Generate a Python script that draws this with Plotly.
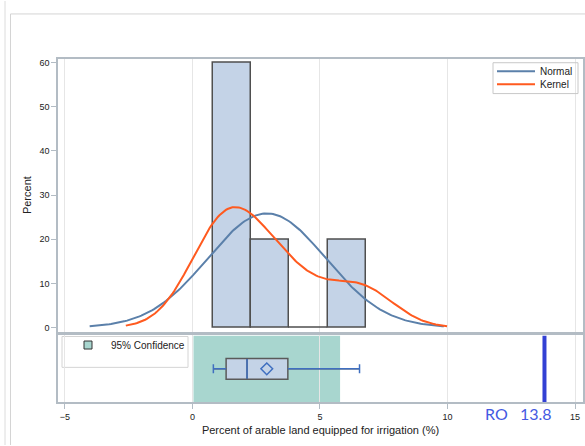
import numpy as np
import plotly.graph_objects as go

# Observed values: percent of arable land equipped for irrigation
obs = [0.82, 1.32, 2.14, 3.74, 6.55]

# Histogram bins (midpoints, width) and percent of observations per bin
bin_mid = [1.55, 3.05, 4.55, 6.05]
bin_pct = [60, 20, 0, 20]
bin_width = 1.5

# Reference country marker
ro_label = "RO"
ro_value = 13.8

x_ticks = [-5, 0, 5, 10, 15]
y_ticks = [0, 10, 20, 30, 40, 50, 60]

W, H = 585, 446

obs_arr = np.array(obs)
n = len(obs_arr)
mu = obs_arr.mean()
sd = obs_arr.std(ddof=1)

# Normal fit scaled to histogram percent
xn = np.linspace(mu - 3 * sd, mu + 3 * sd, 200)
yn = 100 * bin_width * np.exp(-0.5 * ((xn - mu) / sd) ** 2) / (sd * np.sqrt(2 * np.pi))

# Gaussian kernel density scaled to histogram percent
bw = 1.32
xk = np.linspace(obs_arr.min() - 2.6 * bw, obs_arr.max() + 2.6 * bw, 200)
yk = 100 * bin_width * np.mean(
    np.exp(-0.5 * ((xk[:, None] - obs_arr[None, :]) / bw) ** 2) / (bw * np.sqrt(2 * np.pi)),
    axis=1,
)

# 95% confidence interval for the mean (t, 4 df)
t975 = 2.776
ci_lo = mu - t975 * sd / np.sqrt(n)
ci_hi = mu + t975 * sd / np.sqrt(n)

q1, med, q3 = np.percentile(obs_arr, [25, 50, 75])
wlo, whi = obs_arr.min(), obs_arr.max()

BAR_FILL = "#c4d3e7"
BAR_LINE = "#4f4f4f"
NORMAL_C = "#5b80aa"
KERNEL_C = "#ff5a1f"
BOX_BLUE = "#3f6fc0"
TEAL = "#a8d6cf"
FRAME = "#b3bcc4"
GRID = "#e6e6e6"
TXT = "#222222"
FONT = "Liberation Sans, Arial, sans-serif"

fig = go.Figure()

# Histogram bars (upper panel)
fig.add_trace(go.Bar(
    x=bin_mid, y=bin_pct, width=bin_width,
    marker=dict(color=BAR_FILL, line=dict(color=BAR_LINE, width=1.5)),
    xaxis="x2", yaxis="y2", showlegend=False, hoverinfo="skip",
))
fig.add_trace(go.Scatter(
    x=xn, y=yn, mode="lines", name="Normal",
    line=dict(color=NORMAL_C, width=2),
    xaxis="x2", yaxis="y2", legend="legend",
))
fig.add_trace(go.Scatter(
    x=xk, y=yk, mode="lines", name="Kernel",
    line=dict(color=KERNEL_C, width=2),
    xaxis="x2", yaxis="y2", legend="legend3",
))

# Box plot (lower panel)
fig.add_trace(go.Box(
    x=obs, y=[0.5] * n, orientation="h", width=0.31,
    quartilemethod="inclusive", boxpoints=False,
    fillcolor=BAR_FILL, line=dict(color="#5a5a5a", width=1.5),
    whiskerwidth=0, showlegend=False, hoverinfo="skip",
    xaxis="x", yaxis="y",
))
# whiskers, caps and median in blue
cap = 0.067
fig.add_trace(go.Scatter(
    x=[wlo, q1, None, q3, whi, None, wlo, wlo, None, whi, whi, None, med, med],
    y=[0.5, 0.5, None, 0.5, 0.5, None, 0.5 - cap, 0.5 + cap, None, 0.5 - cap, 0.5 + cap,
       None, 0.5 - 0.148, 0.5 + 0.148],
    mode="lines", line=dict(color=BOX_BLUE, width=1.5),
    showlegend=False, hoverinfo="skip", xaxis="x", yaxis="y",
))
fig.add_trace(go.Scatter(
    x=[mu], y=[0.5], mode="markers",
    marker=dict(symbol="diamond-open", size=9, color=BOX_BLUE, line=dict(width=1.5)),
    showlegend=False, hoverinfo="skip", xaxis="x", yaxis="y",
))
# Reference line
fig.add_trace(go.Scatter(
    x=[ro_value, ro_value], y=[0, 1], mode="lines",
    line=dict(color="#3341d4", width=4),
    showlegend=False, hoverinfo="skip", xaxis="x", yaxis="y",
))
# Legend entry for the confidence band
fig.add_trace(go.Scatter(
    x=[None], y=[None], mode="markers", name="95% Confidence",
    marker=dict(symbol="square", size=8, color=TEAL, line=dict(color="#333333", width=1)),
    xaxis="x", yaxis="y", legend="legend2",
))

def px(xp):
    return xp / W

def py(yp):
    return 1 - yp / H

x_lo, x_hi = -5.27, 15.31
axis_common = dict(
    range=[x_lo, x_hi], tickvals=x_ticks, showgrid=True, gridcolor=GRID, gridwidth=1,
    showline=True, mirror=True, linecolor=FRAME, linewidth=1.5, zeroline=False,
    domain=[px(58), px(583)],
)

legend_common = dict(
    xanchor="left", yanchor="top", bgcolor="rgba(0,0,0,0)", borderwidth=0,
    font=dict(size=10, color=TXT),
)

fig.update_layout(
    width=W, height=H,
    margin=dict(l=0, r=0, t=0, b=0),
    paper_bgcolor="white", plot_bgcolor="white",
    font=dict(family=FONT, size=9, color=TXT),
    bargap=0,
    xaxis=dict(
        **axis_common, anchor="y",
        ticks="outside", ticklen=5, tickcolor=FRAME,
        tickfont=dict(size=9, color=TXT),
        title=dict(text="Percent of arable land equipped for irrigation (%)",
                   font=dict(size=11, color=TXT), standoff=6),
    ),
    xaxis2=dict(**axis_common, anchor="y2", matches="x", showticklabels=False, ticks=""),
    yaxis=dict(
        domain=[py(403), py(336)], range=[0, 1], showticklabels=False, ticks="",
        showgrid=False, showline=True, mirror=True, linecolor=FRAME, linewidth=1.5,
        zeroline=False, anchor="x",
    ),
    yaxis2=dict(
        domain=[py(332), py(58)], range=[-0.9, 60.9], tickvals=y_ticks,
        ticks="outside", ticklen=5, tickcolor=FRAME, tickfont=dict(size=9, color=TXT),
        showgrid=False, showline=True, mirror=True, linecolor=FRAME, linewidth=1.5,
        zeroline=False, anchor="x2",
        title=dict(text="Percent", font=dict(size=11, color=TXT), standoff=6),
    ),
    legend=dict(**legend_common, x=px(492), y=py(56), itemwidth=38),
    legend3=dict(**legend_common, x=px(492), y=py(69), itemwidth=38),
    legend2=dict(**legend_common, x=px(65), y=py(331), itemwidth=36),
    showlegend=True,
)

shapes = [
    # confidence band for the mean
    dict(type="rect", xref="x", yref="y", x0=ci_lo, x1=ci_hi, y0=0, y1=1,
         fillcolor=TEAL, line=dict(width=0), layer="below"),
    # legend frames
    dict(type="rect", xref="paper", yref="paper", x0=px(493), x1=px(578), y0=py(93), y1=py(62),
         line=dict(color="#c8c8c8", width=1)),
    dict(type="rect", xref="paper", yref="paper", x0=px(62), x1=px(188), y0=py(368), y1=py(337),
         line=dict(color="#d4d4d4", width=1), fillcolor="white", layer="below"),
    # page frame lines
    dict(type="line", xref="paper", yref="paper", x0=px(5), x1=px(5), y0=0, y1=1,
         line=dict(color="#dcdcdc", width=1)),
    dict(type="line", xref="paper", yref="paper", x0=px(10.5), x1=px(10.5), y0=0, y1=py(13),
         line=dict(color="#d4d4d4", width=1)),
    dict(type="line", xref="paper", yref="paper", x0=px(10.5), x1=1, y0=py(13), y1=py(13),
         line=dict(color="#d4d4d4", width=1)),
]
fig.update_layout(shapes=shapes)

fig.add_annotation(
    x=ro_value, xref="x", y=py(414), yref="paper",
    text=f"{ro_label}\u00a0\u00a0\u00a0{ro_value}", showarrow=False,
    xanchor="right", yanchor="middle", xshift=10,
    font=dict(family="Lato, Open Sans, sans-serif", size=16, color="#4459e2"),
)

fig.write_html("out.html")
